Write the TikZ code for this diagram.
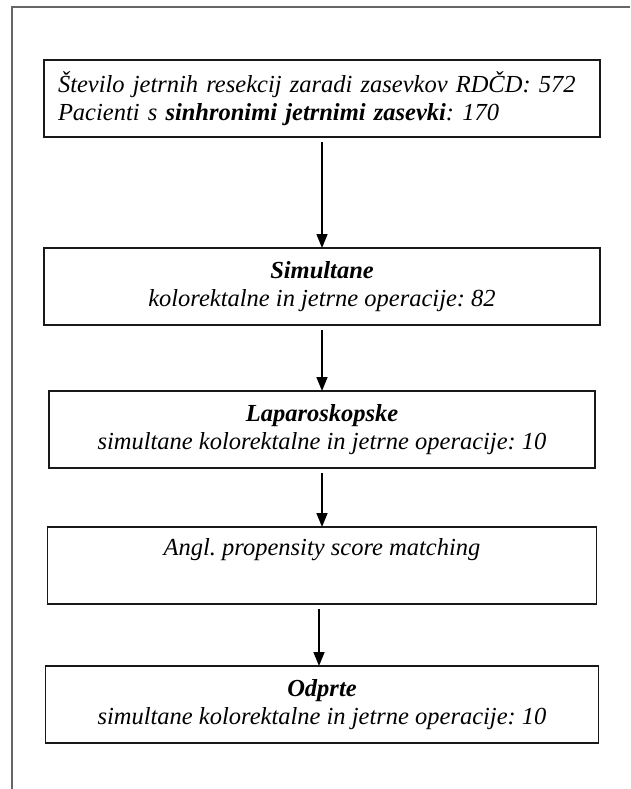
\documentclass[tikz,border=0pt]{standalone}
\usepackage{fontspec}
\setmainfont{Liberation Serif}
\usepackage{tikz}
\usetikzlibrary{positioning,arrows.meta}
\frenchspacing

\begin{document}
\begin{tikzpicture}[x=1pt,y=1pt,
    flowbox/.style={draw=black!90,line width=1.5pt,outer sep=0pt,inner xsep=14pt,minimum height=77pt,align=center,font=\fontsize{24.5}{28}\selectfont\itshape},
    flowarrow/.style={line width=1.5pt,-{Triangle[width=11pt,length=14pt]},shorten <=5pt}]
      \useasboundingbox (0,0) rectangle (630,-789);
      \draw[black!60,line width=1.2pt] (630,-7) -- (12,-7) -- (12,-789);
      \node[flowbox,align=left,text width=528pt](total) at (322,-98.5){Število jetrnih resekcij zaradi zasevkov RDČD: 572\\Pacienti s \textbf{sinhronimi jetrnimi zasevki}: 170};
      \node[flowbox,minimum width=556pt,below=111pt of total](simult){\textbf{Simultane}\\kolorektalne in jetrne operacije: 82};
      \node[flowbox,minimum width=546pt,below=66pt of simult](lapar){\textbf{Laparoskopske}\\simultane kolorektalne in jetrne operacije: 10};
      \node[flowbox,minimum width=549pt,below=59pt of lapar](psm){Angl. propensity score matching\\\strut};
      \node[flowbox,minimum width=553pt,below=62pt of psm](odprte){\textbf{Odprte}\\simultane kolorektalne in jetrne operacije: 10};
      \draw[flowarrow] (total.south) -- (simult.north);
      \draw[flowarrow] (simult.south) -- (lapar.north);
      \draw[flowarrow] (lapar.south) -- (psm.north);
      \draw[flowarrow] ([xshift=-3pt]psm.south) -- ([xshift=-3pt]odprte.north);
    \end{tikzpicture}
\end{document}
